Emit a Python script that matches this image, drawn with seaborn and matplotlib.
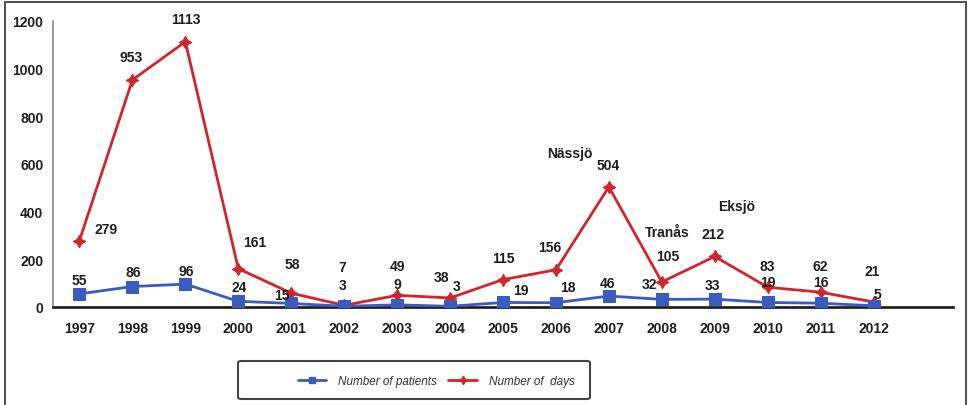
import numpy as np
import pandas as pd
import matplotlib
matplotlib.use("Agg")
import matplotlib.pyplot as plt
from matplotlib.patches import Rectangle, FancyBboxPatch
from matplotlib.lines import Line2D
import seaborn as sns

years = [1997, 1998, 1999, 2000, 2001, 2002, 2003, 2004,
         2005, 2006, 2007, 2008, 2009, 2010, 2011, 2012]
patients = [55, 86, 96, 24, 15, 3, 9, 3, 19, 18, 46, 32, 33, 19, 16, 5]
days = [279, 953, 1113, 161, 58, 7, 49, 38, 115, 156, 504, 105, 212, 83, 62, 21]
y_ticks = [0, 200, 400, 600, 800, 1000, 1200]

# label offsets (pixels) for the value labels of each series
days_off = [(27, 12), (-1, 23), (1, 23), (16, 27), (1, 29), (-2, 38), (0, 29), (-9, 21),
            (0, 22), (-6, 23), (-1, 22), (6, 26), (-2, 22), (0, 21), (0, 26), (-1, 31)]
pat_off = [(0, 14), (1, 15), (1, 13), (1, 14), (-9, 8), (-2, 21), (0, 21), (7, 20),
           (18, 12), (12, 16), (-1, 13), (-12, 15), (-2, 14), (0, 20), (0, 21), (4, 12)]

towns = ["Nässjö", "Tranås", "Eksjö"]
town_xy = [(9.26, 646), (11.10, 315), (12.42, 424)]

sns.set_theme(style="white")
plt.rcParams["font.family"] = ["Liberation Sans Narrow", "Liberation Sans", "DejaVu Sans"]

BLUE = "#3a5bbf"
RED = "#d2252b"

fig = plt.figure(figsize=(9.72, 4.06), dpi=100)
ax = fig.add_axes([53 / 972, 1 - 308 / 406, 900 / 972, 286 / 406])

x = np.arange(len(years))
df = pd.DataFrame({"x": x, "patients": patients, "days": days})

sns.lineplot(data=df, x="x", y="patients", ax=ax, color=BLUE, marker="s",
             markersize=8, markeredgecolor=BLUE, linewidth=2, zorder=3)
sns.lineplot(data=df, x="x", y="days", ax=ax, color=RED, marker=(4, 1, 0),
             markersize=9, markeredgecolor=RED, linewidth=2, zorder=2)

lab_kw = dict(textcoords="offset pixels", ha="center", va="center",
              fontsize=10, fontweight="bold", color="#1e1e1e", zorder=5)
for i, v in enumerate(days):
    ax.annotate(str(v), (x[i], v), xytext=days_off[i], **lab_kw)
for i, v in enumerate(patients):
    ax.annotate(str(v), (x[i], v), xytext=pat_off[i], **lab_kw)
for name, (tx, ty) in zip(towns, town_xy):
    ax.text(tx, ty, name, ha="center", va="center", fontsize=10,
            fontweight="bold", color="#1e1e1e")

ax.set_xlim(-0.5, len(years) + 0.5)
ax.set_ylim(0, 1200)
ax.set_yticks(y_ticks)
ax.set_yticklabels([str(t) for t in y_ticks], fontsize=10, fontweight="bold", color="#1e1e1e")
ax.set_xticks(x)
ax.set_xticklabels([str(y) for y in years], fontsize=10, fontweight="bold", color="#1e1e1e")
ax.set_xticks(np.arange(-0.5, len(years) + 1, 1), minor=True)
ax.tick_params(axis="x", which="major", length=0, pad=10)
ax.tick_params(axis="x", which="minor", length=5, width=1.5, color="#222222", direction="out")
ax.tick_params(axis="y", length=4, width=1, color="#888888", direction="out", pad=3)
ax.set_xlabel("")
ax.set_ylabel("")

for s in ["top", "right"]:
    ax.spines[s].set_visible(False)
ax.spines["left"].set_color("#8a8a8a")
ax.spines["left"].set_linewidth(1.2)
ax.spines["bottom"].set_color("#222222")
ax.spines["bottom"].set_linewidth(2)
ax.patch.set_alpha(0)

# outer frame of the figure
fig.patches.append(Rectangle((5 / 972, -0.02), 961 / 972, 1.02 - 3 / 406,
                             transform=fig.transFigure, fill=False,
                             edgecolor="#555555", linewidth=1.5))

# legend box
fig.patches.append(FancyBboxPatch((238 / 972, 1 - 400 / 406), 352 / 972, 38 / 406,
                                  boxstyle="round,pad=0,rounding_size=0.004",
                                  transform=fig.transFigure, fill=False,
                                  edgecolor="#444444", linewidth=1.5))
handles = [Line2D([], [], color=BLUE, marker="s", markersize=5, linewidth=2),
           Line2D([], [], color=RED, marker=(4, 1, 0), markersize=6, linewidth=2)]
fig.legend(handles, ["Number of patients", "Number of  days"], ncol=2,
           loc="center", bbox_to_anchor=(436 / 972, 1 - 382 / 406), frameon=False,
           prop={"family": ["Liberation Sans", "DejaVu Sans"], "size": 8.5, "style": "italic"},
           labelcolor="#333333", handlelength=2.4, handletextpad=1.0, columnspacing=1.0)

fig.savefig("out.png", dpi=100)
